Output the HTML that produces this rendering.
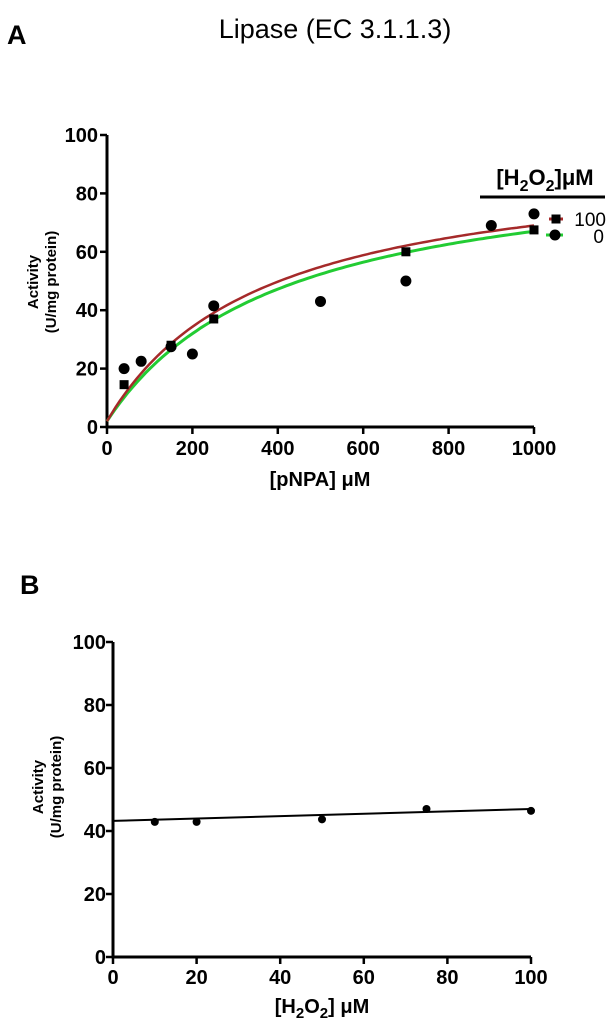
<!DOCTYPE html>
<html><head><meta charset="utf-8"><style>
body{margin:0;background:#fff;width:610px;height:1024px;overflow:hidden}
svg text{font-family:"Liberation Sans",Arial,sans-serif}
</style></head><body>
<svg id="s" width="610" height="1024" xmlns="http://www.w3.org/2000/svg">
<text x="7" y="44" font-size="27" font-weight="bold">A</text>
<text x="335" y="38" font-size="27" text-anchor="middle">Lipase (EC 3.1.1.3)</text>
<text x="20" y="594" font-size="27" font-weight="bold">B</text>
<g id="A"></g><g id="B"></g>
</svg>
<script>
const aXTicks=[0,200,400,600,800,1000];
const aYTicks=[0,20,40,60,80,100];
const aCircX=[40,80,150,200,250,500,700,900,1000];
const aCircY=[20,22.5,27.5,25,41.5,43,50,69,73];
const aSqX=[40,150,250,700,1000];
const aSqY=[14.5,28,37,60,67.5];
const redVmax=93.6, redKm=367, greenVmax=93.8, greenKm=412, fitOffset=2;
const bXTicks=[0,20,40,60,80,100];
const bYTicks=[0,20,40,60,80,100];
const bX=[10,20,50,75,100];
const bY=[42.9,42.9,43.7,47,46.4];
const bLine=[43.2,47];

const NS="http://www.w3.org/2000/svg";
function mk(p,t,a,txt){const e=document.createElementNS(NS,t);for(const k in a)e.setAttribute(k,a[k]);if(txt!=null)e.textContent=txt;p.appendChild(e);return e;}

const A=document.getElementById('A');
const ax=v=>107+v*(534-107)/1000, ay=v=>427-v*(427-135)/100;
let e;
e=mk(A,'path',{d:`M${ax(0)} ${ay(100)}V${ay(0)}H${ax(1000)}`,fill:'none',stroke:'#000','stroke-width':3});

aYTicks.forEach(v=>{
 e=mk(A,'line',{x1:ax(0)-7,x2:ax(0),y1:ay(v),y2:ay(v),stroke:'#000','stroke-width':2.5});
 
 e=mk(A,'text',{x:ax(0)-9,y:ay(v)+7,'font-size':20,'font-weight':'bold','text-anchor':'end'},v);
 
});
aXTicks.forEach(v=>{
 e=mk(A,'line',{x1:ax(v),x2:ax(v),y1:ay(0),y2:ay(0)+7,stroke:'#000','stroke-width':2.5});
 
 e=mk(A,'text',{x:ax(v),y:ay(0)+28,'font-size':20,'font-weight':'bold','text-anchor':'middle'},v);
 
});
e=mk(A,'text',{x:320,y:486,'font-size':20,'font-weight':'bold','text-anchor':'middle'},'[pNPA] μM');

e=mk(A,'text',{transform:'translate(38,282) rotate(-90)','font-size':15,'font-weight':'bold','text-anchor':'middle'},'Activity');

e=mk(A,'text',{transform:'translate(56,282) rotate(-90)','font-size':15,'font-weight':'bold','text-anchor':'middle'},'(U/mg protein)');

function curve(V,K,c,w,name){let d='';for(let x=0;x<=1000;x+=10){const y=fitOffset+(V-fitOffset)*x/(K+x);d+=(x?'L':'M')+ax(x).toFixed(1)+' '+ay(y).toFixed(1);}
 e=mk(A,'path',{d,fill:'none',stroke:c,'stroke-width':w});}
curve(greenVmax,greenKm,'#22cc33',3,'fit-0');
curve(redVmax,redKm,'#a52a2a',2.5,'fit-100');
aCircX.forEach((x,i)=>{e=mk(A,'circle',{cx:ax(x),cy:ay(aCircY[i]),r:5.5,fill:'#000'});
 });
aSqX.forEach((x,i)=>{e=mk(A,'rect',{x:ax(x)-4.5,y:ay(aSqY[i])-4.5,width:9,height:9,fill:'#000'});
 });
e=mk(A,'text',{x:545,y:185,'font-size':22,'font-weight':'bold','text-anchor':'middle'});

e.innerHTML='[H<tspan dy="6" font-size="16">2</tspan><tspan dy="-6">O</tspan><tspan dy="6" font-size="16">2</tspan><tspan dy="-6">]μM</tspan>';
e=mk(A,'line',{x1:480,x2:605,y1:197,y2:197,stroke:'#000','stroke-width':3});

e=mk(A,'line',{x1:549,x2:563,y1:219,y2:219,stroke:'#a52a2a','stroke-width':3});

e=mk(A,'rect',{x:551.5,y:214.5,width:9,height:9,fill:'#000'});

e=mk(A,'text',{x:606,y:226,'font-size':19,'text-anchor':'end'},'100');

e=mk(A,'line',{x1:546,x2:563,y1:235,y2:235,stroke:'#22cc33','stroke-width':3});

e=mk(A,'circle',{cx:555,cy:235,r:5.5,fill:'#000'});

e=mk(A,'text',{x:604,y:243,'font-size':19,'text-anchor':'end'},'0');


const B=document.getElementById('B');
const bx=v=>113+v*(531-113)/100, by=v=>957-v*(957-642)/100;
e=mk(B,'path',{d:`M${bx(0)} ${by(100)}V${by(0)}H${bx(100)}`,fill:'none',stroke:'#000','stroke-width':3});

bYTicks.forEach(v=>{
 e=mk(B,'line',{x1:bx(0)-7,x2:bx(0),y1:by(v),y2:by(v),stroke:'#000','stroke-width':2.5});
 
 e=mk(B,'text',{x:bx(0)-7,y:by(v)+7,'font-size':20,'font-weight':'bold','text-anchor':'end'},v);
 
});
bXTicks.forEach(v=>{
 e=mk(B,'line',{x1:bx(v),x2:bx(v),y1:by(0),y2:by(0)+7,stroke:'#000','stroke-width':2.5});
 
 e=mk(B,'text',{x:bx(v),y:by(0)+27,'font-size':20,'font-weight':'bold','text-anchor':'middle'},v);
 
});
e=mk(B,'text',{x:322,y:1013,'font-size':20,'font-weight':'bold','text-anchor':'middle'});

e.innerHTML='[H<tspan dy="5" font-size="15">2</tspan><tspan dy="-5">O</tspan><tspan dy="5" font-size="15">2</tspan><tspan dy="-5">] μM</tspan>';
e=mk(B,'text',{transform:'translate(43,787) rotate(-90)','font-size':15,'font-weight':'bold','text-anchor':'middle'},'Activity');

e=mk(B,'text',{transform:'translate(61,787) rotate(-90)','font-size':15,'font-weight':'bold','text-anchor':'middle'},'(U/mg protein)');

e=mk(B,'line',{x1:bx(0),x2:bx(100),y1:by(bLine[0]),y2:by(bLine[1]),stroke:'#000','stroke-width':2});

bX.forEach((x,i)=>{e=mk(B,'circle',{cx:bx(x),cy:by(bY[i]),r:4,fill:'#000'});
 });
</script>
</body></html>
